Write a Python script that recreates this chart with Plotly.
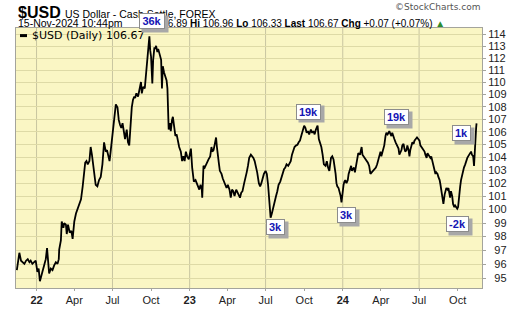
import pandas as pd
import plotly.graph_objects as go

# ---------------- data ----------------
start_date = "2021-11-15"   # day 0 of the series

# (days since start_date, close)
usd_2022 = [
    (0, 95.57), (6, 96.82), (10, 96.25), (14, 96.14), (18, 96.02), (22, 96.25), (26, 96.36), (30, 96.14),
    (33, 96.25), (37, 96.02), (41, 96.14), (45, 96.25), (49, 95.45), (52, 95.68), (55, 94.78), (58, 95.23),
    (61, 95.45), (65, 95.91), (69, 96.36), (72, 97.16), (75, 95.91), (77, 95.34), (81, 95.68), (85, 95.57),
    (89, 95.91), (93, 96.14), (97, 96.02), (100, 96.36), (101, 97.05), (105, 97.72), (107, 99.12), (111, 98.65),
    (113, 99.0), (117, 98.88), (119, 98.19), (122, 98.88), (126, 98.3), (130, 98.42), (133, 97.84), (137, 99.12),
    (141, 99.71), (145, 100.07), (149, 100.55), (153, 100.78), (157, 101.76), (161, 102.71), (163, 103.58),
    (166, 103.7), (169, 103.45), (173, 103.7), (176, 104.8), (179, 104.2), (182, 103.45), (185, 102.71),
    (188, 101.88), (192, 101.76), (196, 102.24), (200, 102.48), (204, 103.45), (208, 105.17), (212, 104.44),
    (215, 104.56), (218, 103.95), (221, 103.7), (224, 104.56), (228, 105.92), (232, 106.95), (236, 108.2),
    (240, 107.95), (243, 106.95), (246, 106.56), (249, 106.31), (252, 106.69), (255, 105.92), (258, 105.43),
    (262, 106.18), (265, 105.17), (268, 104.93), (271, 106.44), (274, 107.95), (277, 108.58), (280, 108.84),
    (282, 108.71), (285, 109.1), (289, 108.84), (292, 109.5), (296, 110.03), (298, 109.1), (301, 109.63),
    (305, 109.5), (308, 110.55), (310, 111.33), (312, 112.13), (316, 113.86), (318, 112.66), (320, 112.13),
    (323, 109.9), (325, 111.87), (328, 112.92), (330, 112.79), (332, 113.05), (335, 112.53), (337, 112.79),
    (340, 112.4), (342, 112.0), (344, 111.87), (346, 109.5), (348, 111.33), (351, 110.81), (354, 110.42),
    (357, 110.16), (359, 109.5), (362, 106.18), (365, 106.69), (367, 106.05), (370, 106.95), (372, 107.2),
    (375, 106.44), (378, 105.68), (381, 105.8), (383, 105.43),
]
usd_2023 = [
    (387, 104.8), (391, 104.44), (394, 103.7), (397, 104.07), (400, 103.7), (403, 104.44), (406, 104.07),
    (410, 103.83), (413, 104.32), (415, 104.68), (418, 103.2), (420, 102.71), (422, 102.12), (426, 102.24),
    (429, 102.0), (432, 101.76), (435, 101.51), (438, 101.88), (441, 101.51), (442, 100.9), (445, 103.33),
    (448, 103.2), (451, 103.45), (454, 103.58), (457, 103.83), (461, 104.07), (464, 104.8), (466, 104.44),
    (469, 104.56), (472, 105.05), (475, 105.55), (477, 104.8), (480, 104.2), (482, 103.45), (484, 102.95),
    (488, 102.71), (491, 102.36), (494, 102.12), (497, 102.0), (500, 101.63), (503, 101.88), (507, 101.51),
    (510, 100.9), (513, 101.51), (516, 101.39), (519, 101.02), (523, 101.51), (526, 101.27), (529, 101.15),
    (532, 100.9), (535, 101.27), (538, 101.39), (542, 102.0), (545, 102.36), (548, 102.83), (551, 103.33),
    (554, 103.95), (558, 104.2), (561, 104.07), (564, 103.95), (567, 103.7), (570, 103.33), (573, 102.83),
    (577, 102.0), (580, 101.76), (583, 102.0), (586, 102.48), (589, 102.71), (593, 102.95), (596, 102.71),
    (599, 101.88), (602, 100.31), (605, 99.4), (608, 99.71), (612, 100.31), (615, 100.67), (618, 101.02),
    (621, 101.39), (624, 101.88), (628, 102.12), (631, 102.48), (634, 102.71), (637, 103.08), (640, 103.2),
    (643, 103.45), (647, 103.33), (650, 103.58), (653, 103.7), (656, 104.2), (659, 104.56), (662, 104.8),
    (666, 104.93), (669, 104.98), (672, 105.17), (675, 105.3), (678, 105.67), (682, 106.18), (685, 106.49),
    (688, 106.31), (691, 105.92), (694, 106.05), (697, 105.8), (701, 106.18), (704, 105.92), (707, 106.05),
    (710, 105.8), (713, 106.18), (717, 106.49), (720, 105.43), (723, 105.17), (726, 104.8), (729, 104.2),
    (732, 103.45), (736, 103.33), (739, 103.7), (742, 103.2), (745, 102.95),
]
usd_2024 = [
    (749, 103.95), (752, 104.07), (755, 103.83), (757, 103.45), (760, 102.71), (762, 102.0), (764, 101.76),
    (767, 101.63), (769, 101.39), (772, 101.02), (774, 100.55), (776, 101.27), (779, 101.88), (781, 102.12),
    (783, 102.24), (786, 102.0), (789, 102.24), (791, 102.71), (794, 103.08), (797, 103.33), (799, 102.95),
    (802, 103.08), (804, 103.2), (806, 102.83), (809, 103.33), (811, 103.95), (814, 104.32), (818, 104.2),
    (820, 104.56), (822, 104.8), (824, 104.2), (827, 104.07), (830, 103.95), (833, 103.83), (837, 103.58),
    (840, 103.33), (843, 102.71), (846, 102.83), (849, 102.95), (853, 103.08), (856, 103.2), (859, 103.45),
    (862, 103.83), (864, 103.95), (867, 104.44), (869, 104.07), (872, 104.44), (874, 104.68), (876, 104.93),
    (879, 105.67), (881, 105.92), (884, 105.8), (886, 105.92), (888, 106.05), (891, 105.8), (893, 105.67),
    (895, 105.92), (898, 105.55), (900, 105.43), (903, 105.17), (905, 105.05), (907, 104.93), (910, 104.68),
    (912, 104.2), (915, 104.44), (917, 104.56), (919, 104.93), (922, 105.05), (924, 104.68), (926, 104.44),
    (929, 104.56), (931, 104.93), (934, 104.56), (936, 104.07), (938, 104.56), (941, 105.05), (943, 105.17),
    (946, 105.05), (948, 105.3), (951, 105.43), (954, 105.55), (957, 105.43), (960, 105.3), (962, 104.93),
    (965, 104.8), (967, 104.68), (969, 104.56), (972, 104.44), (974, 104.2), (977, 103.95), (979, 104.32),
    (981, 104.2), (984, 104.07), (986, 103.95), (988, 104.07), (991, 103.7), (993, 103.33), (996, 102.95),
    (998, 102.71), (1000, 102.83), (1003, 102.71), (1005, 102.48), (1008, 102.24), (1010, 101.88),
    (1012, 101.51), (1015, 101.02), (1017, 100.43), (1020, 101.15), (1022, 101.51), (1024, 101.63),
    (1027, 101.51), (1029, 101.63), (1031, 101.27), (1033, 100.9), (1035, 101.39), (1038, 101.02),
    (1040, 100.43), (1043, 100.19), (1045, 100.31), (1047, 100.19), (1050, 100.07), (1052, 100.19),
    (1054, 101.02), (1057, 101.76), (1059, 102.24), (1062, 102.71), (1064, 102.95), (1066, 103.2),
    (1069, 103.45), (1071, 103.7), (1074, 103.95), (1076, 104.07), (1078, 104.2), (1081, 104.32),
    (1083, 104.44), (1085, 104.2), (1088, 104.07), (1090, 103.33), (1092, 104.93), (1094, 105.67),
    (1095, 106.31), (1096, 106.67),
]

y_ticks = list(range(95, 115))
x_tick_dates = ["2022-01-01", "2022-04-01", "2022-07-01", "2022-10-01",
                "2023-01-01", "2023-04-01", "2023-07-01", "2023-10-01",
                "2024-01-01", "2024-04-01", "2024-07-01", "2024-10-01"]
x_tick_text = ["<b>22</b>", "Apr", "Jul", "Oct", "<b>23</b>", "Apr", "Jul", "Oct",
               "<b>24</b>", "Apr", "Jul", "Oct"]
vgrid_dates = ["2022-01-01", "2022-07-01", "2023-01-01", "2023-07-01", "2024-01-01", "2024-07-01"]

# volume-style callouts: (label, box left px, box top px, box width px)
callouts = [("36k", 139, 13, 26), ("19k", 296, 108, 25), ("3k", 266, 230, 19),
            ("3k", 337, 217, 19), ("19k", 384, 114, 25), ("-2k", 446, 227, 23),
            ("1k", 452, 131, 19)]

# ---------------- build ----------------
pts = usd_2022 + usd_2023 + usd_2024
days = [p[0] for p in pts]
close = [p[1] for p in pts]
dates = pd.Timestamp(start_date) + pd.to_timedelta(days, unit="D")

W, H = 520, 318
L, R, T, B = 16, 38, 28, 16
PW, PH = W - L - R, H - T - B


def px(x):
    return (x - L) / PW


def py(y):
    return (H - B - y) / PH


FONT = "Arial, Liberation Sans, sans-serif"
BG = "#FAF6C4"

fig = go.Figure()
fig.add_trace(go.Scatter(x=dates, y=close, mode="lines",
                         line=dict(color="#000000", width=1.8), showlegend=False,
                         hoverinfo="skip"))

shapes = []
for d in vgrid_dates:
    shapes.append(dict(type="line", xref="x", yref="paper", x0=d, x1=d, y0=0, y1=1,
                       line=dict(color="#C8C5A0", width=1), layer="below"))
# legend dash
shapes.append(dict(type="line", xref="paper", yref="paper", x0=px(20), x1=px(27),
                   y0=py(36), y1=py(36), line=dict(color="#000", width=3)))

annotations = [
    dict(text="<b>$USD</b>", x=px(16), y=py(12), xref="paper", yref="paper",
         xanchor="left", yanchor="middle", showarrow=False,
         font=dict(family=FONT, size=16, color="#000")),
    dict(text="US Dollar - Cash Settle, FOREX", x=px(63), y=py(13), xref="paper", yref="paper",
         xanchor="left", yanchor="middle", showarrow=False,
         font=dict(family=FONT, size=10.5, color="#000")),
    dict(text="15-Nov-2024 10:44pm", x=px(16), y=py(23), xref="paper", yref="paper",
         xanchor="left", yanchor="middle", showarrow=False,
         font=dict(family=FONT, size=10.5, color="#000")),
    dict(text="<b>Op</b> 106.89 <b>Hi</b> 106.96 <b>Lo</b> 106.33 <b>Last</b> 106.67 "
              "<b>Chg</b> +0.07 (+0.07%) <span style='color:#2E8B2E'>▲</span>",
         x=px(447), y=py(23), xref="paper", yref="paper",
         xanchor="right", yanchor="middle", showarrow=False,
         font=dict(family=FONT, size=10, color="#000")),
    dict(text="©StockCharts.com", x=px(482), y=py(6), xref="paper", yref="paper",
         xanchor="right", yanchor="middle", showarrow=False,
         font=dict(family="DejaVu Sans, sans-serif", size=9, color="#555")),
    dict(text="$USD (Daily) 106.67", x=px(30), y=py(36), xref="paper", yref="paper",
         xanchor="left", yanchor="middle", showarrow=False,
         font=dict(family="DejaVu Sans, sans-serif", size=11, color="#000")),
]

BH = 16
for label, bx, by, bw in callouts:
    cx, cy = bx + bw / 2, by + BH / 2
    # shadow
    annotations.append(dict(text=" ", x=px(cx + 3), y=py(cy + 3), xref="paper", yref="paper",
                            xanchor="center", yanchor="middle", showarrow=False,
                            width=bw, height=BH, bgcolor="#A8A8A8", borderpad=0,
                            font=dict(size=10)))
    annotations.append(dict(text="<b>%s</b>" % label, x=px(cx), y=py(cy), xref="paper", yref="paper",
                            xanchor="center", yanchor="middle", showarrow=False,
                            width=bw - 2, height=BH - 2, bgcolor="#FFFFFF", bordercolor="#8C8C8C",
                            borderwidth=1, borderpad=0,
                            font=dict(family=FONT, size=11, color="#1414B4")))

y_text = [("\u2007" + str(v)) if v < 100 else str(v) for v in y_ticks]

fig.update_layout(
    width=W, height=H,
    margin=dict(l=L, r=R, t=T, b=B, pad=0),
    paper_bgcolor="#FFFFFF", plot_bgcolor=BG,
    shapes=shapes, annotations=annotations,
    showlegend=False,
    xaxis=dict(type="date", range=["2021-11-13", "2024-11-28"],
               tickvals=x_tick_dates, ticktext=x_tick_text,
               showgrid=False, zeroline=False,
               showline=True, linecolor="#A4A49C", linewidth=1, mirror=True,
               ticks="outside", ticklen=2, tickcolor="#A4A49C",
               tickfont=dict(family=FONT, size=11, color="#222")),
    yaxis=dict(type="log", range=[1.97452, 2.05906], side="right",
               tickvals=y_ticks, ticktext=y_text,
               showgrid=True, gridcolor="#DEDAA6", gridwidth=1, zeroline=False,
               showline=True, linecolor="#A4A49C", linewidth=1, mirror=True,
               ticks="outside", ticklen=3, tickcolor="#A4A49C",
               tickfont=dict(family=FONT, size=11, color="#222")),
)

fig.write_html("out.html")
